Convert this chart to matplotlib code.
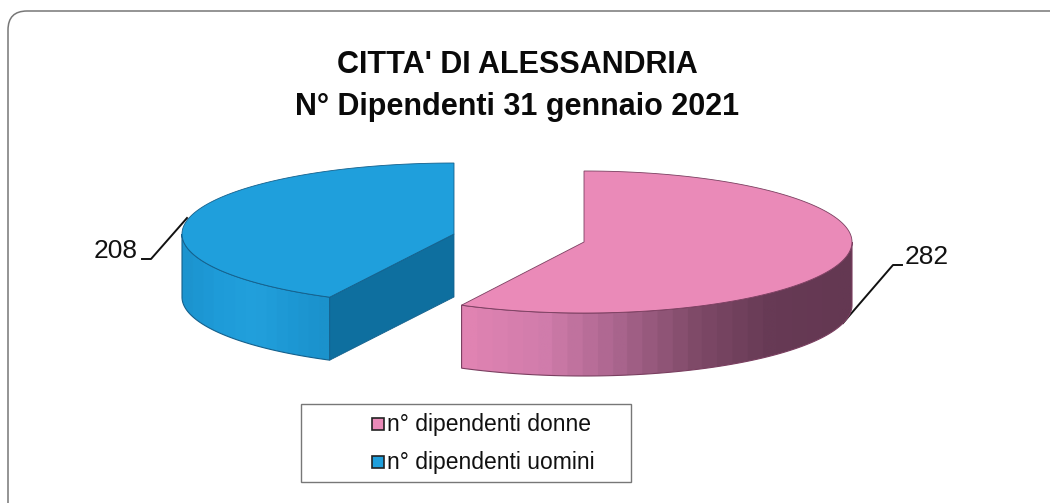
import numpy as np
import matplotlib
matplotlib.use("Agg")
import matplotlib.pyplot as plt
from matplotlib.colors import LinearSegmentedColormap
from matplotlib.patches import PathPatch, Polygon, Rectangle
from matplotlib.path import Path

plt.rcParams['font.family'] = ['Liberation Sans', 'DejaVu Sans']

title = "CITTA' DI ALESSANDRIA\nN° Dipendenti 31 gennaio 2021"
categories = ["n° dipendenti donne", "n° dipendenti uomini"]
values = [282, 208]

# slice geometry in pixels, one entry per category
centers = [(584, 242), (454, 234)]
radii_x = [268, 272]
radius_y = 71
depth = 63
top_colors = ['#ea8ab8', '#1f9fdc']
edge_colors = ['#7a3f60', '#14608c']


def arc(center, rx, start, stop, drop=0):
    # angles run clockwise from 12 o'clock, as on a pie chart
    t = np.radians(np.linspace(start, stop, 200))
    return np.column_stack([center[0] + rx * np.sin(t),
                            center[1] + drop - radius_y * np.cos(t)])


def draw_wall(ax, center, rx, start, stop, cmap, edge):
    front = arc(center, rx, start, stop)
    back = arc(center, rx, start, stop, drop=depth)[::-1]
    outline = np.vstack([front, back])
    patch = Polygon(outline, closed=True, facecolor='none', edgecolor=edge,
                    linewidth=0.8, zorder=3)
    ax.add_patch(patch)
    x0, x1 = outline[:, 0].min(), outline[:, 0].max()
    y0, y1 = outline[:, 1].min(), outline[:, 1].max()
    im = ax.imshow(np.linspace(0, 1, 256)[None, :], cmap=cmap, aspect='auto',
                   extent=(x0, x1, y1, y0), zorder=2)
    im.set_clip_path(patch)


fig = plt.figure(figsize=(10.53, 5.04), dpi=100)
ax = fig.add_axes([0, 0, 1, 1])

# outer frame: only the top and left sides with a rounded corner
frame = Path([(1050, 11), (27, 11), (8, 11), (8, 30), (8, 503)],
             [Path.MOVETO, Path.LINETO, Path.CURVE3, Path.CURVE3, Path.LINETO])
ax.add_patch(PathPatch(frame, facecolor='none', edgecolor='#777777', linewidth=1.1))

split = 360 * values[0] / sum(values)

# pink slice, wall first and then the top face
pink_wall = LinearSegmentedColormap.from_list(
    'pink_wall', ['#e083b2', '#d07cab', '#a8648c', '#7f4a68', '#673a55', '#643852'], N=26)
draw_wall(ax, centers[0], radii_x[0], 90, split, pink_wall, edge_colors[0])
top = np.vstack([[centers[0]], arc(centers[0], radii_x[0], 0, split)])
ax.add_patch(Polygon(top, closed=True, facecolor=top_colors[0],
                     edgecolor=edge_colors[0], linewidth=0.6, zorder=4))

# blue slice, with the darker cut face towards the pink one
blue_wall = LinearSegmentedColormap.from_list(
    'blue_wall', ['#1c94cf', '#1f9cd9', '#22a0dc', '#1d98d4', '#1b92cc'], N=14)
draw_wall(ax, centers[1], radii_x[1], split, 270, blue_wall, edge_colors[1])
corner = arc(centers[1], radii_x[1], split, split)[0]
cut = [centers[1], corner, corner + (0, depth), (centers[1][0], centers[1][1] + depth)]
ax.add_patch(Polygon(cut, closed=True, facecolor='#0e6f9f',
                     edgecolor=edge_colors[1], linewidth=0.6, zorder=3))
top = np.vstack([[centers[1]], arc(centers[1], radii_x[1], split, 360)])
ax.add_patch(Polygon(top, closed=True, facecolor=top_colors[1],
                     edgecolor=edge_colors[1], linewidth=0.6, zorder=4))

# value labels with their leader lines
ax.plot([843, 893, 902], [323, 265, 265], color='#111111', lw=1.4, zorder=1)
ax.text(905, 257.5, str(values[0]), fontsize=19, color='#111111', ha='left', va='center')
ax.plot([142, 151, 187], [259, 259, 218], color='#111111', lw=1.4, zorder=1)
ax.text(138, 251.5, str(values[1]), fontsize=19, color='#111111', ha='right', va='center')

ax.text(517, 86, title, fontsize=22, fontweight='bold', color='#0a0a0a',
        ha='center', va='center', linespacing=1.48)

# legend box
ax.add_patch(Rectangle((301, 404), 330, 78, facecolor='white',
                       edgecolor='#777777', linewidth=1.0))
for name, color, y in zip(categories, top_colors, [424, 462]):
    ax.add_patch(Rectangle((371.5, y - 6), 12, 12, facecolor=color,
                           edgecolor='#222222', linewidth=1.2))
    ax.text(387, y, name, fontsize=16.5, color='#111111', ha='left', va='center')

ax.set_xlim(0, 1053)
ax.set_ylim(504, 0)
ax.axis('off')

fig.savefig('out.png', dpi=100, facecolor='white')
